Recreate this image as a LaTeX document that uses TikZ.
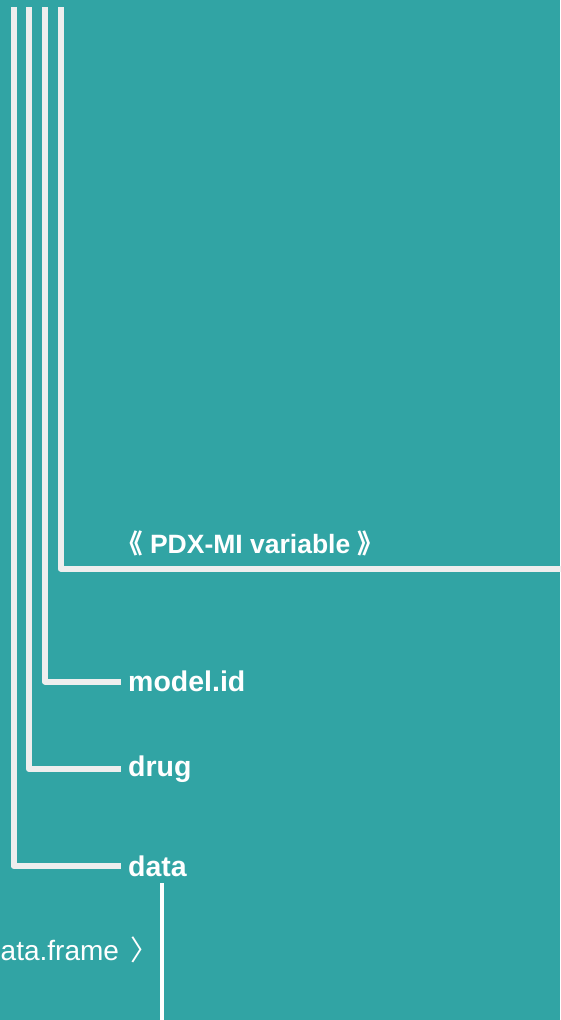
\documentclass[tikz,border=0pt]{standalone}
\usepackage{fontspec}
\setmainfont{Liberation Sans}
\newfontfamily\cjk{Noto Sans CJK SC}
\usetikzlibrary{positioning}

\definecolor{teal bg}{HTML}{31A4A4}
\definecolor{branch grey}{HTML}{EEEEEE}

\tikzset{
    branch/.style={draw=branch grey, line width=6pt, line join=round},
    leaf/.style={text=white, inner sep=0pt, anchor=west,
        font=\fontsize{28.5}{34}\selectfont\bfseries},
}

\begin{document}
\begin{tikzpicture}[x=1pt, y=-1pt]

% Background
\fill[teal bg] (0,0) rectangle (560,1020);
\useasboundingbox (0,0) rectangle (560,1020);

% Tops of the branches
\coordinate (top1) at (13.5,7);
\coordinate (top2) at (29,7);
\coordinate (top3) at (45,7);
\coordinate (top4) at (60.5,7);

% Labels
\node[leaf] (modelid) at (128,681.5) {model.id};
\node[leaf] (drug) at (128,769) {drug};
\node[leaf] (data) at (128,866) {data};

% PDX-MI variable
\coordinate (pdxend) at (566,568.5);
\node[text=white, inner sep=0pt, anchor=base west,
    font=\fontsize{26.5}{32}\selectfont\bfseries] (pdx) at (116,553)
    {{\cjk 《}\ PDX-MI variable\ {\cjk 》}};

% Branches
\draw[branch] (top4) |- (pdxend);
\draw[branch] (top3) |- ([xshift=-7pt]modelid.west);
\draw[branch] (top2) |- ([xshift=-7pt]drug.west);
\draw[branch] (top1) |- ([xshift=-7pt]data.west);

% data.frame
\node[text=white, inner sep=0pt, anchor=base west,
    font=\fontsize{28}{32}\selectfont] (frame) at (0.5,960)
    {ata.frame\ \hspace{4pt}{\cjk 〉}};
\coordinate (frametop) at (162,883);
\coordinate (framebot) at (162,1024);
\draw[white, line width=4.5pt] (frametop) -- (framebot);

\end{tikzpicture}
\end{document}
